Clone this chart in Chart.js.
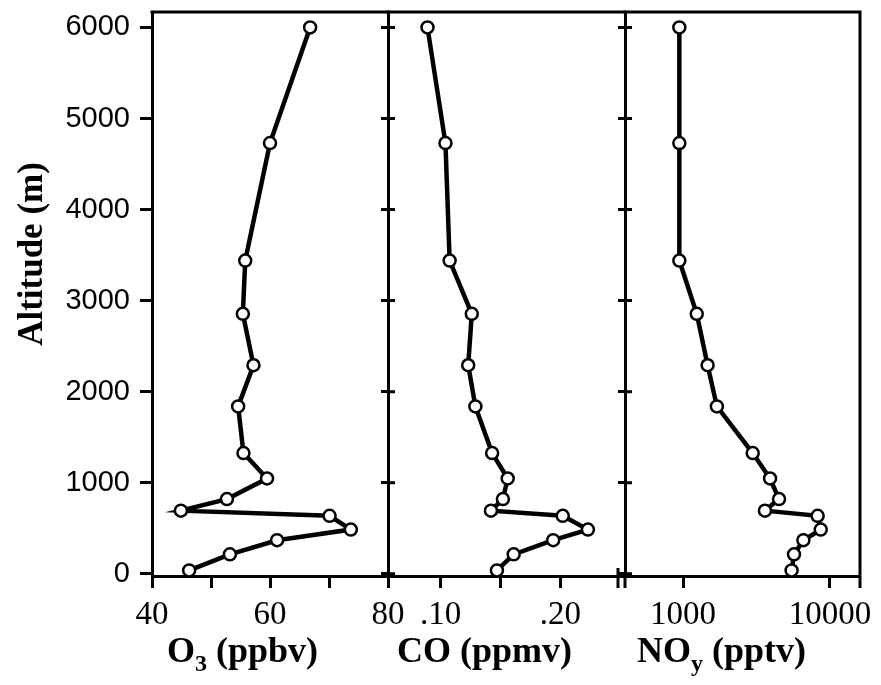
<!DOCTYPE html>
<html>
<head>
<meta charset="utf-8">
<script src="https://cdn.jsdelivr.net/npm/chart.js@4.4.1/dist/chart.umd.min.js"></script>
<style>
    html, body { margin: 0; padding: 0; background: #fff; }
    #wrap { position: relative; width: 881px; height: 685px; }
    #wrap canvas { position: absolute; left: 0; top: 0; }
</style>
</head>
<body>
<div id="wrap">
    <canvas id="o3Chart" width="881" height="685"></canvas>
    <canvas id="coChart" width="881" height="685"></canvas>
    <canvas id="noyChart" width="881" height="685"></canvas>
</div>
<script>
// profile data (same altitude levels in all three panels)
const altitude = [6000, 4730, 3440, 2855, 2290, 1838, 1325, 1046, 820, 693, 636, 485, 368, 213, 36];
const o3Values = [66.8, 60.0, 55.8, 55.4, 57.2, 54.6, 55.5, 59.5, 52.7, 44.9, 70.1, 73.7, 61.2, 53.2, 46.3];
const coValues = [0.089, 0.104, 0.1075, 0.126, 0.123, 0.129, 0.143, 0.156, 0.152, 0.142, 0.202, 0.223, 0.194, 0.161, 0.147];
const noyValues = [944, 944, 944, 1240, 1470, 1700, 2980, 3910, 4500, 3610, 8240, 8650, 6590, 5690, 5480];

// axes
const altitudeTicks = [0, 1000, 2000, 3000, 4000, 5000, 6000];
const o3Ticks = [40, 50, 60, 70, 80];
const o3Labels = ['40', '', '60', '', '80'];
const coTicks = [0.10, 0.15, 0.20];
const coLabels = ['.10', '', '.20'];
const noyTicks = [1000, 10000];
const noyLabels = ['1000', '10000'];

const BLACK = '#000';
const TITLE_FONT = "bold 36px 'Liberation Serif'";
const SUB_FONT = "bold 24px 'Liberation Serif'";

function toPoints(values) {
    return altitude.map((a, i) => ({ x: values[i], y: a }));
}

function profileDataset(values) {
    return {
        data: toPoints(values),
        showLine: true,
        borderColor: BLACK,
        borderWidth: 4.5,
        tension: 0,
        pointRadius: 6,
        pointBorderWidth: 2.5,
        pointBackgroundColor: '#fff',
        pointBorderColor: BLACK,
        clip: false
    };
}

function altitudeScale(showLabels, width) {
    return {
        type: 'linear',
        min: -25,
        max: 6170,
        afterBuildTicks: s => { s.ticks = altitudeTicks.map(v => ({ value: v })); },
        afterFit: s => {
            s.width = width;
            // keep the label overhang from shrinking the plot area
            s.paddingTop = 0;
            s.paddingBottom = 0;
        },
        border: { display: true, width: 3, color: BLACK },
        grid: { drawOnChartArea: false, drawTicks: true, tickLength: showLabels ? 12 : 7, tickWidth: 3, color: BLACK },
        ticks: {
            display: showLabels,
            padding: 10,
            color: BLACK,
            font: { family: "'Liberation Sans'", size: 29 },
            callback: value => String(value)
        }
    };
}

function valueScale(type, min, max, tickValues, tickLabels) {
    return {
        type: type,
        min: min,
        max: max,
        afterBuildTicks: s => { s.ticks = tickValues.map(v => ({ value: v })); },
        afterFit: s => {
            s.height = 109;
            s.paddingLeft = 0;
            s.paddingRight = 0;
        },
        border: { display: true, width: 3, color: BLACK },
        grid: { drawOnChartArea: false, drawTicks: true, tickLength: 12, tickWidth: 3, color: BLACK },
        ticks: {
            padding: 8,
            maxRotation: 0,
            autoSkip: false,
            color: BLACK,
            font: { family: "'Liberation Serif'", size: 33 },
            callback: value => {
                const i = tickValues.findIndex(v => Math.abs(v - value) < 1e-9);
                return i >= 0 ? tickLabels[i] : '';
            }
        }
    };
}

// draws text parts with subscripts, left aligned from x
function drawParts(ctx, parts, x, y) {
    ctx.textAlign = 'left';
    ctx.textBaseline = 'alphabetic';
    parts.forEach(p => {
        ctx.font = p.sub ? SUB_FONT : TITLE_FONT;
        ctx.fillText(p.text, x, p.sub ? y + 9 : y);
        x += ctx.measureText(p.text).width;
    });
}

// frame lines, inner tick marks, axis titles
const framePlugin = {
    id: 'frame',
    afterDraw(chart, args, opts) {
        const { ctx, chartArea: a } = chart;
        const yScale = chart.scales.y;
        ctx.save();
        ctx.strokeStyle = BLACK;
        ctx.fillStyle = BLACK;
        ctx.lineWidth = 3;
        ctx.lineCap = 'butt';

        ctx.beginPath();
        ctx.moveTo(a.left - 1.5, a.top);
        ctx.lineTo(a.right + 1.5, a.top);
        if (opts.rightBorder) {
            ctx.moveTo(a.right, a.top);
            ctx.lineTo(a.right, a.bottom + 12);
        }
        if (opts.innerTicks) {
            yScale.ticks.forEach(t => {
                const py = yScale.getPixelForValue(t.value);
                ctx.moveTo(a.left, py);
                ctx.lineTo(a.left + 7, py);
            });
        }
        if (opts.axisBreak) {
            ctx.moveTo(a.left, a.bottom);
            ctx.lineTo(a.left, a.bottom + 12);
            ctx.moveTo(a.left - 7, a.bottom - 8);
            ctx.lineTo(a.left - 7, a.bottom + 12);
        }
        ctx.stroke();

        if (opts.title) {
            drawParts(ctx, opts.title, a.left + opts.titleOffset, 662);
        }
        if (opts.yTitle) {
            ctx.translate(33, 254);
            ctx.rotate(-Math.PI / 2);
            ctx.font = "bold 35px 'Liberation Serif'";
            ctx.textAlign = 'center';
            ctx.textBaseline = 'middle';
            ctx.fillText(opts.yTitle, 0, 0);
        }
        ctx.restore();
    }
};

function makeChart(canvasId, values, xScale, yScale, padding, frameOpts) {
    return new Chart(document.getElementById(canvasId).getContext('2d'), {
        type: 'scatter',
        data: { datasets: [profileDataset(values)] },
        options: {
            responsive: false,
            animation: false,
            layout: { padding: padding },
            scales: { x: xScale, y: yScale },
            plugins: {
                legend: { display: false },
                tooltip: { enabled: false },
                frame: frameOpts
            }
        },
        plugins: [framePlugin]
    });
}

makeChart('o3Chart', o3Values,
    valueScale('linear', 40, 80, o3Ticks, o3Labels),
    altitudeScale(true, 152),
    { left: 0, right: 881 - 388, top: 12, bottom: 0 },
    {
        title: [{ text: 'O' }, { text: '3', sub: true }, { text: ' (ppbv)' }],
        titleOffset: 15,
        yTitle: 'Altitude (m)'
    });

makeChart('coChart', coValues,
    valueScale('linear', 0.056, 0.254, coTicks, coLabels),
    altitudeScale(false, 388),
    { left: 0, right: 881 - 625, top: 12, bottom: 0 },
    {
        title: [{ text: 'CO (ppmv)' }],
        titleOffset: 9,
        innerTicks: true
    });

makeChart('noyChart', noyValues,
    valueScale('logarithmic', 403, 16000, noyTicks, noyLabels),
    altitudeScale(false, 625),
    { left: 0, right: 881 - 860, top: 12, bottom: 0 },
    {
        title: [{ text: 'NO' }, { text: 'y', sub: true }, { text: ' (pptv)' }],
        titleOffset: 12,
        innerTicks: true,
        rightBorder: true,
        axisBreak: true
    });
</script>
</body>
</html>
